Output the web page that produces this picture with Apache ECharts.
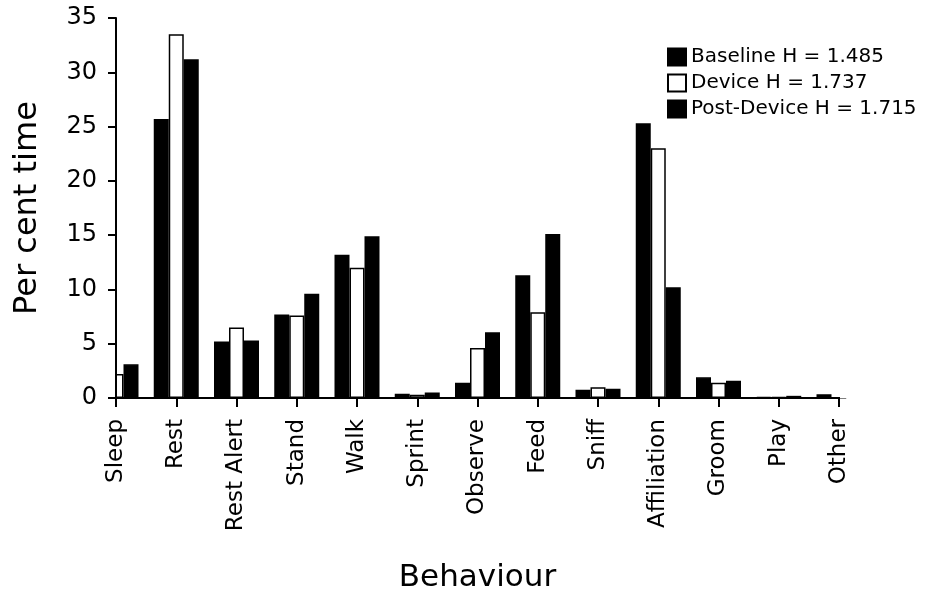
<!DOCTYPE html>
<html>
<head>
<meta charset="utf-8">
<script src="https://cdn.jsdelivr.net/npm/echarts@6/dist/echarts.min.js"></script>
<style>
  html, body { margin: 0; padding: 0; background: #fff; }
  #chart { width: 930px; height: 598px; }
</style>
</head>
<body>
<div id="chart"></div>
<script>
// behaviour categories on the x axis
var categories = ['Sleep', 'Rest', 'Rest Alert', 'Stand', 'Walk', 'Sprint', 'Observe', 'Feed', 'Sniff', 'Affiliation', 'Groom', 'Play', 'Other'];
// per cent time
var baseline = [2.0, 25.7, 5.2, 7.7, 13.2, 0.4, 1.4, 11.3, 0.75, 25.3, 1.9, 0.1, 0.35];
var device = [2.2, 33.5, 6.5, 7.6, 12.0, 0.3, 4.6, 7.9, 1.0, 23.0, 1.4, 0.1, 0.05];
var postDevice = [3.1, 31.2, 5.3, 9.6, 14.9, 0.5, 6.05, 15.1, 0.85, 10.2, 1.6, 0.2, 0.3];
var seriesNames = ['Baseline H = 1.485', 'Device H = 1.737', 'Post-Device H = 1.715'];
var yTicks = [0, 5, 10, 15, 20, 25, 30, 35];

var font = 'DejaVu Sans';
var W = 930, H = 598;
var grid = { left: 116, right: 91, top: 18, bottom: 199 };
var chart = echarts.init(document.getElementById('chart'));

function barSeries(name, data, fill) {
  return {
    name: name,
    type: 'bar',
    data: data,
    barWidth: 15,
    barGap: '0%',
    itemStyle: { color: fill, borderColor: '#000', borderWidth: 1.5 }
  };
}

// bars at the first/last category stick out of the plot when boundaryGap is false,
// echarts doesn't clip them there, so paint white over the outside (under the axes)
function mask(x, w) {
  return {
    type: 'rect',
    z: 5,
    silent: true,
    shape: { x: x, y: grid.top - 5, width: w, height: H - grid.top - grid.bottom + 4 },
    style: { fill: '#fff' }
  };
}

var option = {
  animation: false,
  backgroundColor: '#fff',
  textStyle: { fontFamily: font, color: '#000' },
  legend: {
    z: 20,
    orient: 'vertical',
    left: 662,
    top: 42,
    itemWidth: 18,
    itemHeight: 17,
    itemGap: 6,
    icon: 'rect',
    textStyle: { fontFamily: font, fontSize: 20, color: '#000' },
    data: seriesNames
  },
  grid: grid,
  graphic: [
    mask(0, grid.left - 1),
    mask(W - grid.right + 1, grid.right)
  ],
  xAxis: {
    type: 'category',
    z: 10,
    data: categories,
    boundaryGap: false,
    name: 'Behaviour',
    nameLocation: 'middle',
    nameGap: 164,
    nameTextStyle: { fontFamily: font, fontSize: 31, color: '#000' },
    axisLine: { lineStyle: { color: '#000', width: 2 } },
    axisTick: { interval: 0, length: 9, lineStyle: { color: '#000', width: 2 } },
    axisLabel: { interval: 0, rotate: 90, margin: 21, fontFamily: font, fontSize: 23, color: '#000' },
    splitLine: { show: false }
  },
  yAxis: {
    type: 'value',
    z: 10,
    min: yTicks[0],
    max: yTicks[yTicks.length - 1],
    interval: 5,
    name: 'Per cent time',
    nameLocation: 'middle',
    nameGap: 72,
    nameTextStyle: { fontFamily: font, fontSize: 32, color: '#000' },
    axisLine: { show: true, lineStyle: { color: '#000', width: 2 } },
    axisTick: { show: true, length: 8, lineStyle: { color: '#000', width: 2 } },
    axisLabel: { margin: 19, fontFamily: font, fontSize: 24, color: '#000' },
    splitLine: { show: false }
  },
  series: [
    barSeries(seriesNames[0], baseline, '#000'),
    barSeries(seriesNames[1], device, '#fff'),
    barSeries(seriesNames[2], postDevice, '#000')
  ]
};

chart.setOption(option);
</script>
</body>
</html>
